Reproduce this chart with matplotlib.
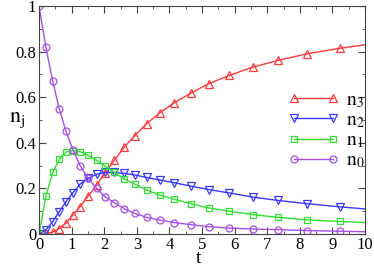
import matplotlib
matplotlib.use('Agg')
import matplotlib.pyplot as plt
from matplotlib.ticker import MultipleLocator, FormatStrFormatter

plt.rcParams['font.family'] = 'Liberation Serif'
plt.rcParams['mathtext.fontset'] = 'stix'

# time grid
t = [0, 0.21, 0.42, 0.62, 0.83, 1.04, 1.26, 1.5, 1.77, 2.02, 2.31, 2.62, 2.94,
     3.3, 3.71, 4.15, 4.66, 5.21, 5.84, 6.55, 7.34, 8.23, 9.23, 10]

n0 = [1.0, 0.82, 0.67, 0.55, 0.45, 0.37, 0.30, 0.245, 0.20, 0.164, 0.137, 0.111, 0.09,
      0.073, 0.061, 0.05, 0.041, 0.032, 0.026, 0.022, 0.019, 0.015, 0.012, 0.010]
n1 = [0, 0.165, 0.27, 0.328, 0.36, 0.366, 0.361, 0.346, 0.323, 0.298, 0.27, 0.241, 0.219,
      0.193, 0.171, 0.152, 0.133, 0.114, 0.10, 0.085, 0.073, 0.062, 0.055, 0.05]
n2 = [0, 0.018, 0.054, 0.098, 0.142, 0.181, 0.219, 0.244, 0.262, 0.27, 0.27, 0.266, 0.259,
      0.248, 0.237, 0.225, 0.21, 0.195, 0.18, 0.162, 0.147, 0.133, 0.119, 0.11]
n3 = [0, 0.003, 0.008, 0.024, 0.048, 0.083, 0.12, 0.165, 0.215, 0.268, 0.323, 0.382, 0.432,
      0.484, 0.532, 0.576, 0.618, 0.66, 0.696, 0.732, 0.762, 0.791, 0.815, 0.83]

fig = plt.figure(figsize=(3.74, 2.65), dpi=100)
ax = fig.add_axes([0.1043, 0.117, 0.8717, 0.86])

marks = list(range(len(t) - 1))
ax.plot(t, n3, color='#ff3838', lw=1, marker='^', ms=5.5, mfc='none', mew=0.9,
        markevery=marks, label=r'$\mathrm{n_3}$')
ax.plot(t, n2, color='#3838ff', lw=1, marker='v', ms=5.5, mfc='none', mew=0.9,
        markevery=marks, label=r'$\mathrm{n_2}$')
ax.plot(t, n1, color='#30e030', lw=1, marker='s', ms=5, mfc='none', mew=0.9,
        markevery=marks, label=r'$\mathrm{n_1}$')
ax.plot(t, n0, color='#a84de8', lw=1, marker='o', ms=5, mfc='none', mew=0.9,
        markevery=marks, label=r'$\mathrm{n_0}$')

ax.set_xlim(0, 10)
ax.set_ylim(0, 1)
ax.xaxis.set_major_locator(MultipleLocator(1))
ax.xaxis.set_minor_locator(MultipleLocator(0.5))
ax.yaxis.set_major_locator(MultipleLocator(0.2))
ax.yaxis.set_minor_locator(MultipleLocator(0.1))
ax.yaxis.set_major_formatter(FormatStrFormatter('%g'))
ax.tick_params(which='both', direction='in', top=True, right=True,
               color='#444444', labelsize=12, pad=2)
ax.tick_params(which='major', length=5)
ax.tick_params(which='minor', length=2.5)
for s in ax.spines.values():
    s.set_color('#444444')

ax.set_xlabel('t', fontsize=14, va='top')
ax.xaxis.set_label_coords(0.49, -0.072)
ax.set_ylabel(r'$\mathrm{n_j}$', fontsize=16, rotation=0, va='center', ha='center')
ax.yaxis.set_label_coords(-0.068, 0.5)

ax.legend(loc='upper left', bbox_to_anchor=(0.74, 0.66), frameon=False,
          numpoints=2, handlelength=2.6, handletextpad=0.4, labelspacing=0.1,
          fontsize=14, borderaxespad=0)

fig.savefig('out.png', dpi=100)
